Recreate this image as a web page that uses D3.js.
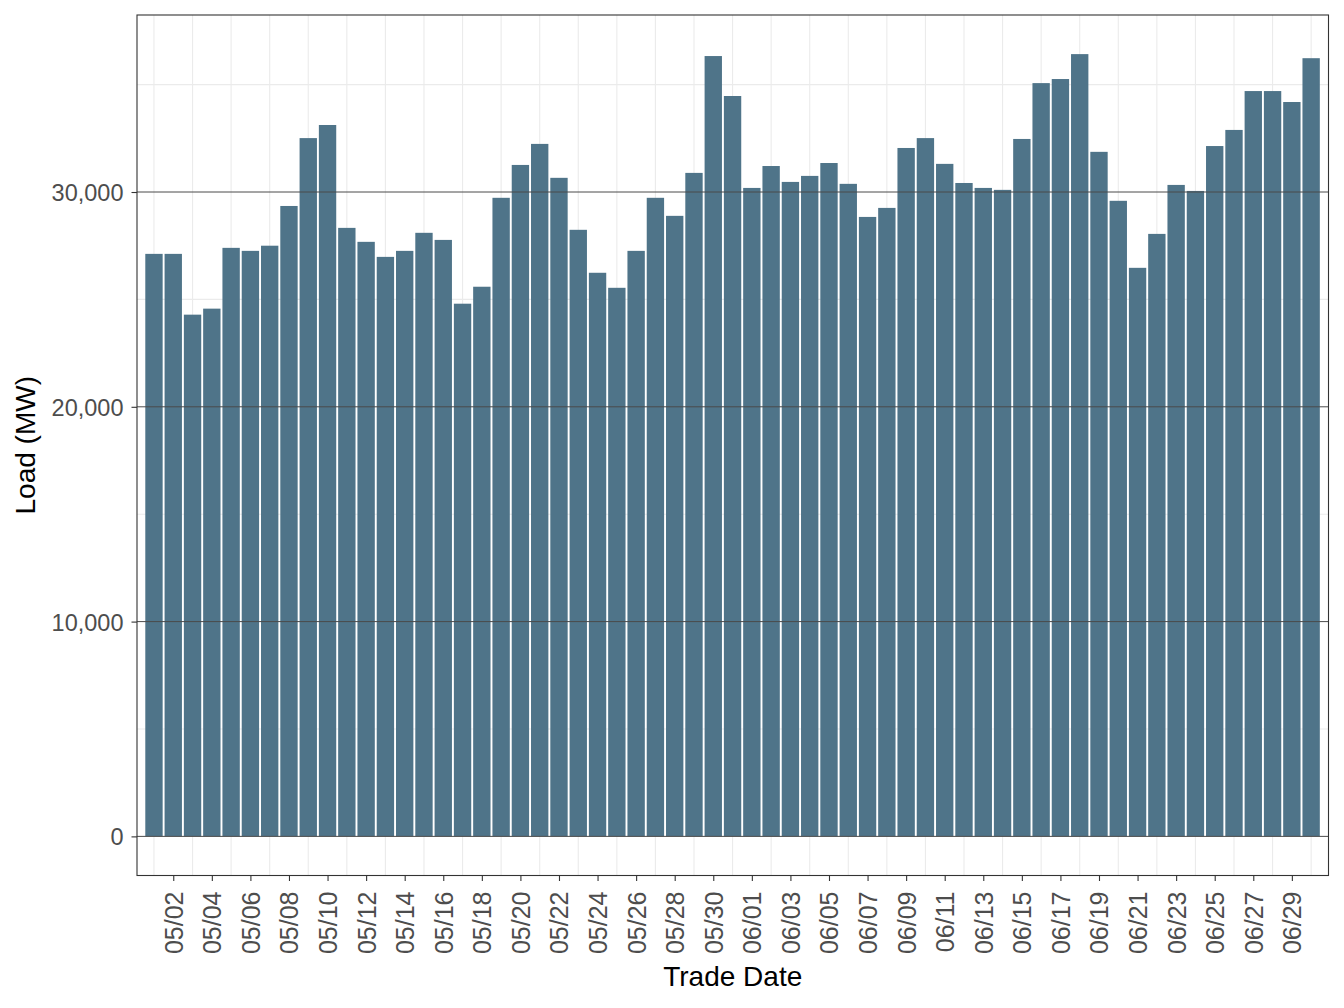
<!DOCTYPE html>
<html>
<head>
<meta charset="utf-8">
<script src="https://cdn.jsdelivr.net/npm/d3@7"></script>
<style>
  html, body { margin: 0; padding: 0; background: #ffffff; }
  text { font-family: "Liberation Sans", Arial, Helvetica, sans-serif; }
</style>
</head>
<body>
<svg id="chart" width="1344" height="1008"></svg>
<script>
const dates = [
  "05/01","05/02","05/03","05/04","05/05","05/06","05/07","05/08","05/09","05/10",
  "05/11","05/12","05/13","05/14","05/15","05/16","05/17","05/18","05/19","05/20",
  "05/21","05/22","05/23","05/24","05/25","05/26","05/27","05/28","05/29","05/30",
  "05/31","06/01","06/02","06/03","06/04","06/05","06/06","06/07","06/08","06/09",
  "06/10","06/11","06/12","06/13","06/14","06/15","06/16","06/17","06/18","06/19",
  "06/20","06/21","06/22","06/23","06/24","06/25","06/26","06/27","06/28","06/29",
  "06/30"
];
const loadMW = [
  27120, 27120, 24290, 24570, 27400, 27260, 27500, 29350, 32510, 33120,
  28330, 27680, 26980, 27260, 28100, 27770, 24800, 25590, 29730, 31260,
  32240, 30660, 28240, 26240, 25540, 27260, 29730, 28890, 30890, 36330,
  34470, 30190, 31210, 30470, 30750, 31350, 30380, 28840, 29260, 32050,
  32510, 31310, 30420, 30190, 30100, 32470, 35070, 35260, 36420, 31870,
  29590, 26470, 28050, 30330, 30050, 32140, 32890, 34700, 34700, 34190,
  36230
];
const yTicks = [0, 10000, 20000, 30000];
const yMinor = [5000, 15000, 25000, 35000];
const xTickLabels = dates.filter((d, i) => i % 2 === 1);
const xGridDates = dates.filter((d, i) => i % 2 === 0);

const svg = d3.select("#chart");
const panel = { left: 137, right: 1328.5, top: 15, bottom: 875.5 };

const yMax = d3.max(loadMW);
const y = d3.scaleLinear()
  .domain([-0.05 * yMax, 1.05 * yMax])
  .range([panel.bottom, panel.top]);

const idx = d3.scaleLinear()
  .domain([-0.88, dates.length - 1 + 0.9])
  .range([panel.left, panel.right]);
const xPos = d => idx(dates.indexOf(d));
const step = idx(1) - idx(0);
const barW = step * 0.9;

svg.append("rect")
  .attr("x", panel.left).attr("y", panel.top)
  .attr("width", panel.right - panel.left).attr("height", panel.bottom - panel.top)
  .attr("fill", "#ffffff");

const grid = svg.append("g");
grid.selectAll("line.hmin").data(yMinor.filter(v => y(v) > panel.top)).join("line")
  .attr("x1", panel.left).attr("x2", panel.right)
  .attr("y1", d => y(d)).attr("y2", d => y(d))
  .attr("stroke", "#ebebeb").attr("stroke-width", 1.1);
grid.selectAll("line.vg").data(xGridDates).join("line")
  .attr("x1", d => xPos(d)).attr("x2", d => xPos(d))
  .attr("y1", panel.top).attr("y2", panel.bottom)
  .attr("stroke", "#ebebeb").attr("stroke-width", 1.1);

svg.append("g").selectAll("rect").data(dates).join("rect")
  .attr("x", d => xPos(d) - barW / 2)
  .attr("width", barW)
  .attr("y", (d, i) => y(loadMW[i]))
  .attr("height", (d, i) => y(0) - y(loadMW[i]))
  .attr("fill", "#4f7489");

svg.append("g").selectAll("line").data(yTicks).join("line")
  .attr("x1", panel.left).attr("x2", panel.right)
  .attr("y1", d => y(d)).attr("y2", d => y(d))
  .attr("stroke", "#4a4a4a").attr("stroke-width", 1);

svg.append("rect")
  .attr("x", panel.left).attr("y", panel.top)
  .attr("width", panel.right - panel.left).attr("height", panel.bottom - panel.top)
  .attr("fill", "none").attr("stroke", "#333333").attr("stroke-width", 1.1);

const yAxis = d3.axisLeft(y).tickValues(yTicks)
  .tickFormat(d3.format(",")).tickSizeOuter(0).tickSizeInner(5.5).tickPadding(8);
const gy = svg.append("g").attr("transform", `translate(${panel.left},0)`).call(yAxis);
gy.select(".domain").remove();
gy.selectAll(".tick line").attr("stroke", "#333333").attr("stroke-width", 1.1);
gy.selectAll(".tick text").attr("fill", "#4d4d4d").style("font-size", "23.5px")
  .attr("dy", "0.36em");

const xBand = d3.scalePoint().domain(dates).range([idx(0), idx(dates.length - 1)]);
const xAxis = d3.axisBottom(xBand).tickValues(xTickLabels)
  .tickSizeOuter(0).tickSizeInner(5.5).tickPadding(4);
const gx = svg.append("g").attr("transform", `translate(0,${panel.bottom})`).call(xAxis);
gx.select(".domain").remove();
gx.selectAll(".tick line").attr("stroke", "#333333").attr("stroke-width", 1.1);
gx.selectAll(".tick text")
  .attr("fill", "#4d4d4d").style("font-size", "25px")
  .attr("transform", "rotate(-90)")
  .attr("text-anchor", "end")
  .attr("x", -16).attr("y", 0).attr("dy", "0.36em");

svg.append("text")
  .attr("x", (panel.left + panel.right) / 2).attr("y", 986)
  .attr("text-anchor", "middle").attr("fill", "#000")
  .style("font-size", "28px").text("Trade Date");
svg.append("text")
  .attr("transform", `translate(35,${(panel.top + panel.bottom) / 2}) rotate(-90)`)
  .attr("text-anchor", "middle").attr("fill", "#000")
  .style("font-size", "28px").text("Load (MW)");
</script>
</body>
</html>
